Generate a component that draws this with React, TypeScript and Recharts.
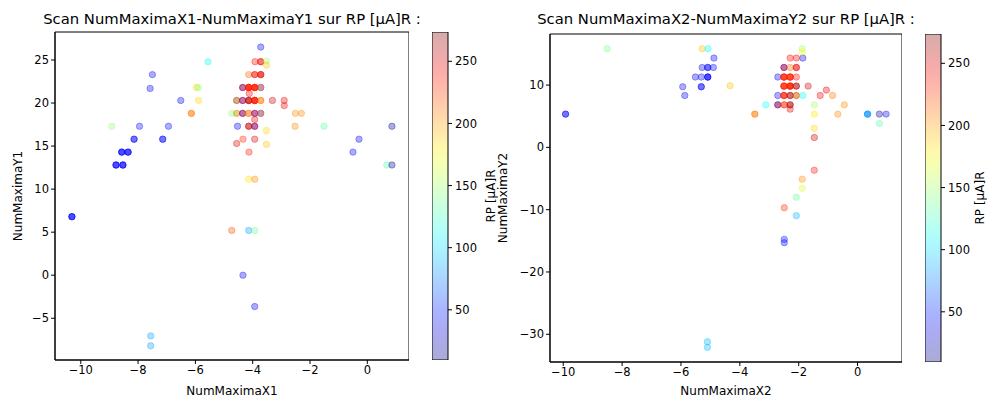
import React from "react";
import {
  ScatterChart,
  Scatter,
  BarChart,
  Bar,
  XAxis,
  YAxis,
  ReferenceArea,
} from "recharts";

// Scan 1 : NumMaximaX1 / NumMaximaY1, colour = RP [µA]R
const X1 = [
  -3.72, -3.92, -3.72, -3.72, -3.52, -3.52, -4.14, -3.93, -3.93, -3.72, -3.72,
  -4.35, -4.35, -4.14, -4.14, -4.14, -3.93, -3.93, -3.93, -3.72, -3.72, -4.12,
  -4.56, -4.56, -4.35, -4.35, -4.14, -4.14, -3.93, -3.93, -3.93, -3.72, -3.72,
  -3.31, -2.9, -2.9, -6.51, -5.89, -4.73, -4.56, -4.56, -4.35, -4.35, -4.14,
  -4.14, -3.93, -3.93, -3.72, -3.72, -2.51, -2.3, -6.14, -6.14, -3.93, -8.92,
  -7.95, -6.94, -4.53, -4.14, -4.14, -3.93, -3.93, -2.52, -1.51, 0.86, -3.52,
  -8.14, -8.14, -7.14, -7.14, -4.34, -3.93, -0.29, -4.56, -3.52, -8.57, -8.57,
  -8.57, -8.35, -8.35, -8.35, -4.13, -0.5, -8.77, -8.77, -8.77, -8.53, -8.53,
  -8.53, 0.68, 0.86, -4.14, -3.93, -10.31, -10.31, -10.31, -4.73, -4.14, -3.93,
  -4.34, -3.93, -7.56, -7.56, -5.56, -7.5, -7.58, -5.97, -5.9,
  -4.14, -4.14, -3.93, -3.93, -3.93, -3.93, -3.72, -4.14,
];
const Y1 = [
  26.5, 24.8, 24.8, 24.8, 24.9, 24.4, 23.3, 23.3, 23.3, 23.3, 23.3,
  21.8, 21.8, 21.8, 21.8, 21.8, 21.8, 21.8, 21.8, 21.8, 21.8, 21.1,
  20.3, 20.3, 20.3, 20.3, 20.3, 20.3, 20.3, 20.3, 20.3, 20.3, 20.3,
  20.3, 20.3, 19.7, 20.3, 20.3, 18.8, 18.8, 18.8, 18.8, 18.8, 18.8,
  18.8, 18.8, 18.8, 18.8, 18.8, 18.8, 18.8, 18.8, 18.8, 18.1, 17.3,
  17.3, 17.3, 17.3, 17.3, 17.3, 17.3, 17.3, 17.3, 17.3, 17.3, 16.8,
  15.8, 15.8, 15.8, 15.8, 15.8, 15.8, 15.8, 15.3, 15.2, 14.3, 14.3,
  14.3, 14.3, 14.3, 14.3, 14.3, 14.3, 12.8, 12.8, 12.8, 12.8, 12.8,
  12.8, 12.8, 12.8, 11.15, 11.15, 6.8, 6.8, 6.8, 5.2, 5.2, 5.2,
  0, -3.64, -7.05, -8.2, 24.8, 23.3, 21.7, 21.8, 21.8,
  21.8, 21.8, 21.8, 21.8, 20.3, 20.3, 23.3, 20.3,
];
const RP1 = [
  40, 240, 235, 245, 150, 190, 215, 230, 245, 245, 255,
  40, 250, 240, 240, 240, 240, 240, 240, 40, 210, 240,
  150, 255, 40, 245, 262, 262, 240, 240, 240, 210, 210,
  255, 245, 245, 40, 185, 145, 150, 215, 40, 250, 210,
  210, 40, 245, 40, 210, 205, 205, 210, 210, 245, 145,
  45, 45, 40, 255, 255, 40, 250, 205, 130, 15, 185,
  40, 40, 45, 45, 230, 250, 40, 250, 190, 42, 42,
  42, 42, 42, 42, 235, 40, 42, 42, 42, 42, 42,
  42, 130, 15, 180, 205, 42, 42, 42, 220, 85, 135,
  40, 40, 85, 85, 110, 40, 40, 185, 145,
  230, 230, 230, 230, 230, 230, 230, 250,
];

// Scan 2 : NumMaximaX2 / NumMaximaY2
const X2 = [
  -8.51, -5.28, -5.08, -4.88, -5.28, -5.09, -5.09, -4.9, -5.51, -5.31, -5.09,
  -5.09, -5.09, -5.94, -5.31, -5.31, -5.87, -4.33, -9.92, -9.92, -3.49, -3.49,
  -3.12, -2.71, -2.71, -2.49, -2.49, -2.29, -2.29, -2.29, -2.71, -2.5, -2.5,
  -2.29, -2.29, -2.08, -2.08, -1.86, -1.27, -1.06, -0.85, -1.47, -0.45, -1.47,
  -0.67, 0.34, 0.34, 0.34, 0.74, 0.97, 0.74, -1.47, -1.47, -1.68, -2.71,
  -2.5, -2.5, -2.29, -2.29, -2.08, -2.5, -2.5, -2.29, -2.29, -2.29, -2.08,
  -2.08, -2.5, -2.5, -2.29, -2.08, -2.08, -2.29, -2.08, -1.86, -1.88, -1.88,
  -1.47, -1.88, -1.88, -2.08, -2.49, -2.08, -2.49, -2.49, -5.1, -5.1,
  -2.29, -2.29, -2.5, -2.5, -2.5, -2.5, -2.29, -2.29, -2.5,
];
const Y2 = [
  15.84, 15.84, 15.84, 14.34, 12.83, 12.83, 12.83, 12.83, 11.29, 11.29, 11.29,
  11.29, 11.29, 9.73, 9.73, 9.73, 8.33, 9.89, 5.34, 5.34, 5.34, 5.34,
  6.83, 6.83, 6.83, 6.83, 6.83, 6.83, 6.83, 6.14, 8.33, 8.33, 8.33,
  8.33, 8.33, 8.33, 8.33, 8.33, 8.33, 9.2, 8.33, 6.83, 6.83, 5.34,
  5.34, 5.34, 5.34, 5.34, 5.34, 5.34, 3.83, 3.09, 1.58, 9.84, 11.29,
  11.29, 11.29, 11.29, 11.29, 11.29, 9.84, 9.84, 9.84, 9.84, 9.84, 9.84,
  9.84, 12.83, 12.83, 12.83, 12.83, 12.83, 14.34, 14.34, 14.34, 15.84, 15.3,
  -3.67, -5.1, -6.56, -8.0, -9.68, -10.96, -14.76, -15.3, -31.2, -32.1,
  9.84, 9.84, 9.84, 9.84, 11.29, 11.29, 11.29, 11.29, 8.33,
];
const RP2 = [
  140, 190, 110, 40, 40, 40, 40, 40, 40, 40, 42,
  42, 42, 40, 42, 42, 40, 190, 42, 42, 210, 210,
  110, 40, 255, 230, 230, 262, 262, 245, 40, 240, 240,
  262, 262, 170, 250, 110, 245, 245, 210, 150, 205, 180,
  205, 40, 90, 90, 15, 40, 130, 185, 255, 255, 40,
  240, 240, 240, 240, 240, 240, 240, 240, 240, 240, 262,
  262, 40, 250, 215, 245, 245, 240, 240, 40, 150, 170,
  235, 205, 165, 135, 230, 90, 45, 45, 90, 90,
  230, 230, 230, 230, 230, 230, 230, 230, 230,
];

const X_TICKS = [-10, -8, -6, -4, -2, 0];
const Y1_TICKS = [-5, 0, 5, 10, 15, 20, 25];
const Y2_TICKS = [-30, -20, -10, 0, 10];
const CB_TICKS = [50, 100, 150, 200, 250];

const CB_MIN = 9.6;
const CB_MAX = 273.6;
const ALPHA = 0.33;
const FONT = '"DejaVu Sans", sans-serif';

function jet(t: number) {
  const c = (v: number) => Math.round(255 * Math.max(0, Math.min(1, v)));
  const r = c(1.5 - Math.abs(4 * t - 3));
  const g = c(1.5 - Math.abs(4 * t - 2));
  const b = c(1.5 - Math.abs(4 * t - 1));
  return `rgb(${r},${g},${b})`;
}

const colorOf = (v: number) => jet((v - CB_MIN) / (CB_MAX - CB_MIN));

const fmt = (v: number) => String(v).replace("-", "\u2212");

const tickStyle = { fontSize: 11.5, fill: "#000", fontFamily: FONT };
const labelStyle = { fontSize: 12, fill: "#000", fontFamily: FONT };

function Dot(props: any) {
  const { cx, cy, payload } = props;
  const col = colorOf(payload.c);
  return (
    <circle
      cx={cx}
      cy={cy}
      r={3.2}
      fill={col}
      fillOpacity={ALPHA}
      stroke={col}
      strokeOpacity={ALPHA}
      strokeWidth={1}
    />
  );
}

function Panel({
  xs,
  ys,
  cs,
  xDomain,
  yDomain,
  yTicks,
  xLabel,
  yLabel,
  yLabelOffset,
  left,
  width,
  top,
  bottom,
}: any) {
  const data = xs.map((x: number, i: number) => ({ x, y: ys[i], c: cs[i] }));
  return (
    <div style={{ position: "absolute", left, top: 0 }}>
      <ScatterChart
        width={width}
        height={401}
        margin={{ top, right: 0, bottom: 0, left: 0 }}
      >
        <XAxis
          type="number"
          dataKey="x"
          domain={xDomain}
          allowDataOverflow
          ticks={X_TICKS}
          tickFormatter={fmt}
          height={bottom}
          tickSize={4}
          tick={tickStyle}
          tickLine={{ stroke: "#000" }}
          axisLine={{ stroke: "#000" }}
          label={{ value: xLabel, position: "insideBottom", offset: 6, style: labelStyle }}
        />
        <YAxis
          type="number"
          dataKey="y"
          domain={yDomain}
          allowDataOverflow
          ticks={yTicks}
          tickFormatter={fmt}
          width={55}
          tickSize={4}
          tick={tickStyle}
          tickLine={{ stroke: "#000" }}
          axisLine={{ stroke: "#000" }}
          label={{
            value: yLabel,
            angle: -90,
            position: "insideLeft",
            offset: yLabelOffset,
            style: { ...labelStyle, textAnchor: "middle" },
          }}
        />
        <ReferenceArea
          x1={xDomain[0]}
          x2={xDomain[1]}
          y1={yDomain[0]}
          y2={yDomain[1]}
          fill="none"
          fillOpacity={0}
          stroke="#000"
          strokeWidth={1}
        />
        <Scatter data={data} shape={<Dot />} isAnimationActive={false} />
      </ScatterChart>
    </div>
  );
}

const CB_DATA = [{ name: "cb", range: [CB_MIN, CB_MAX] }];

function ColorBar({ id, left, top, bottom, axisWidth }: any) {
  const stops = Array.from({ length: 21 }, (_, i) => i / 20);
  return (
    <div style={{ position: "absolute", left, top: 0 }}>
      <BarChart
        width={16 + axisWidth}
        height={401}
        data={CB_DATA}
        barCategoryGap={0}
        margin={{ top, right: 0, bottom, left: 0 }}
      >
        <defs>
          <linearGradient id={id} x1="0" y1="1" x2="0" y2="0">
            {stops.map((s) => (
              <stop key={s} offset={s} stopColor={jet(s)} stopOpacity={ALPHA} />
            ))}
          </linearGradient>
        </defs>
        <XAxis dataKey="name" hide />
        <YAxis
          type="number"
          orientation="right"
          domain={[CB_MIN, CB_MAX]}
          allowDataOverflow
          ticks={CB_TICKS}
          width={axisWidth}
          tickSize={4}
          tickMargin={3}
          tick={tickStyle}
          tickLine={{ stroke: "#000" }}
          axisLine={false}
          label={{
            value: "RP [µA]R",
            angle: -90,
            position: "insideRight",
            offset: 7,
            style: { ...labelStyle, textAnchor: "middle" },
          }}
        />
        <Bar
          dataKey="range"
          fill={`url(#${id})`}
          stroke="#000"
          strokeWidth={1}
          isAnimationActive={false}
        />
      </BarChart>
    </div>
  );
}

const titleStyle: React.CSSProperties = {
  position: "absolute",
  top: 10,
  width: 460,
  textAlign: "center",
  fontFamily: FONT,
  fontSize: 14.8,
  color: "#000",
  whiteSpace: "nowrap",
};

export default function App() {
  return (
    <div
      style={{
        position: "absolute",
        left: 0,
        top: 0,
        width: 987,
        height: 401,
        overflow: "hidden",
        background: "#fff",
      }}
    >
      <ColorBar id="cb1" left={431.5} top={32} bottom={41} axisWidth={50} />
      <Panel
        xs={X1}
        ys={Y1}
        cs={RP1}
        xDomain={[-10.9, 1.455]}
        yDomain={[-9.85, 28.25]}
        yTicks={Y1_TICKS}
        xLabel="NumMaximaX1"
        yLabel="NumMaximaY1"
        yLabelOffset={18}
        left={0}
        width={409}
        top={32}
        bottom={41}
      />
      <Panel
        xs={X2}
        ys={Y2}
        cs={RP2}
        xDomain={[-10.45, 1.51]}
        yDomain={[-34.45, 18.2]}
        yTicks={Y2_TICKS}
        xLabel="NumMaximaX2"
        yLabel="NumMaximaY2"
        yLabelOffset={8}
        left={495}
        width={407}
        top={34}
        bottom={39}
      />
      <ColorBar id="cb2" left={925} top={34} bottom={39} axisWidth={46} />
      <div style={{ ...titleStyle, left: 232 - 230 }}>
        Scan NumMaximaX1-NumMaximaY1 sur RP [µA]R :
      </div>
      <div style={{ ...titleStyle, left: 726 - 230 }}>
        Scan NumMaximaX2-NumMaximaY2 sur RP [µA]R :
      </div>
    </div>
  );
}
